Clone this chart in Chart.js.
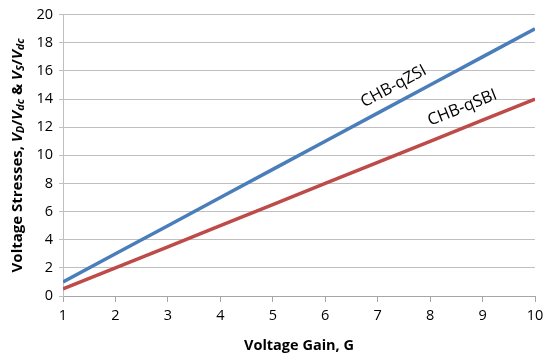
<!DOCTYPE html>
<html>
<head>
<meta charset="utf-8">
<script src="https://cdn.jsdelivr.net/npm/chart.js@4/dist/chart.umd.min.js"></script>
<style>
  html, body { margin: 0; padding: 0; background: #fff; }
  #wrap { width: 550px; height: 359px; }
</style>
</head>
<body>
<div id="wrap"><canvas id="chart" width="550" height="359"></canvas></div>
<script>
// values
const gain = [1, 2, 3, 4, 5, 6, 7, 8, 9, 10];
const qzsi = [1, 3, 5, 7, 9, 11, 13, 15, 17, 19];
const qsbi = [0.5, 2, 3.5, 5, 6.5, 8, 9.5, 11, 12.5, 14];
const seriesNames = ['CHB-qZSI', 'CHB-qSBI'];

const FONT = '"Open Sans", "Liberation Sans", sans-serif';

function toPoints(ys) {
    return gain.map((g, i) => ({ x: g, y: ys[i] }));
}

// draws the rotated labels beside each line
const lineLabels = {
    id: 'lineLabels',
    afterDatasetsDraw(chart) {
        const { ctx } = chart;
        const xs = chart.scales.x, ys = chart.scales.y;
        const spots = [
            { ds: 0, at: 7.45, off: -16 },
            { ds: 1, at: 8.75, off: -19 }
        ];
        ctx.save();
        ctx.font = '16.5px ' + FONT;
        ctx.fillStyle = '#000';
        ctx.textAlign = 'center';
        ctx.textBaseline = 'middle';
        spots.forEach(s => {
            const data = chart.data.datasets[s.ds].data;
            const a = data[0], b = data[data.length - 1];
            const px0 = xs.getPixelForValue(a.x), py0 = ys.getPixelForValue(a.y);
            const px1 = xs.getPixelForValue(b.x), py1 = ys.getPixelForValue(b.y);
            const ang = Math.atan2(py1 - py0, px1 - px0);
            const t = (s.at - a.x) / (b.x - a.x);
            const cx = px0 + t * (px1 - px0), cy = py0 + t * (py1 - py0);
            ctx.save();
            ctx.translate(cx, cy);
            ctx.rotate(ang);
            ctx.fillText(seriesNames[s.ds], 0, s.off);
            ctx.restore();
        });
        ctx.restore();
    }
};

// y title with italic subscripts, drawn by hand
const yTitle = {
    id: 'yTitle',
    afterDraw(chart) {
        const { ctx, chartArea } = chart;
        const parts = [
            { t: 'Voltage Stresses, ', f: 'bold 15px ' + FONT, dy: 0 },
            { t: 'V', f: 'italic bold 15px ' + FONT, dy: 0 },
            { t: 'D', f: 'italic bold 11px ' + FONT, dy: 3 },
            { t: '/', f: 'bold 15px ' + FONT, dy: 0 },
            { t: 'V', f: 'italic bold 15px ' + FONT, dy: 0 },
            { t: 'dc', f: 'italic bold 11px ' + FONT, dy: 3 },
            { t: ' & ', f: 'bold 15px ' + FONT, dy: 0 },
            { t: 'V', f: 'italic bold 15px ' + FONT, dy: 0 },
            { t: 'S', f: 'italic bold 11px ' + FONT, dy: 3 },
            { t: '/', f: 'bold 15px ' + FONT, dy: 0 },
            { t: 'V', f: 'italic bold 15px ' + FONT, dy: 0 },
            { t: 'dc', f: 'italic bold 11px ' + FONT, dy: 3 }
        ];
        ctx.save();
        let total = 0;
        parts.forEach(p => { ctx.font = p.f; p.w = ctx.measureText(p.t).width; total += p.w; });
        const cy = (chartArea.top + chartArea.bottom) / 2;
        ctx.translate(18, cy);
        ctx.rotate(-Math.PI / 2);
        ctx.fillStyle = '#000';
        ctx.textBaseline = 'middle';
        ctx.textAlign = 'left';
        let x = -total / 2;
        parts.forEach(p => {
            ctx.font = p.f;
            ctx.fillText(p.t, x, p.dy);
            x += p.w;
        });
        ctx.restore();
    }
};

new Chart(document.getElementById('chart'), {
    type: 'line',
    data: {
        datasets: [
            {
                label: seriesNames[0],
                data: toPoints(qzsi),
                borderColor: '#4A7EBB',
                borderWidth: 3.5,
                pointRadius: 0,
                tension: 0
            },
            {
                label: seriesNames[1],
                data: toPoints(qsbi),
                borderColor: '#BE4B48',
                borderWidth: 3.5,
                pointRadius: 0,
                tension: 0
            }
        ]
    },
    options: {
        responsive: false,
        animation: false,
        layout: { padding: { top: 11, right: 15, left: 0, bottom: 0 } },
        plugins: {
            legend: { display: false },
            tooltip: { enabled: false }
        },
        scales: {
            x: {
                type: 'linear',
                min: 1,
                max: 10,
                ticks: {
                    stepSize: 1,
                    color: '#000',
                    font: { family: FONT, size: 14.5 },
                    padding: 5
                },
                grid: {
                    drawOnChartArea: false,
                    drawTicks: true,
                    tickLength: 6,
                    color: '#A6A6A6'
                },
                border: { color: '#A6A6A6' },
                title: {
                    display: true,
                    text: 'Voltage Gain, G',
                    color: '#000',
                    font: { family: FONT, size: 14.5, weight: 'bold' },
                    padding: { top: 5 }
                },
                afterFit(scale) { scale.height = 63; }
            },
            y: {
                min: 0,
                max: 20,
                ticks: {
                    stepSize: 2,
                    color: '#000',
                    font: { family: FONT, size: 14.5 },
                    padding: 6
                },
                grid: {
                    color: '#BFBFBF',
                    tickLength: 4
                },
                border: { color: '#BFBFBF' },
                afterFit(scale) { scale.width = 63; }
            }
        }
    },
    plugins: [lineLabels, yTitle]
});
</script>
</body>
</html>
